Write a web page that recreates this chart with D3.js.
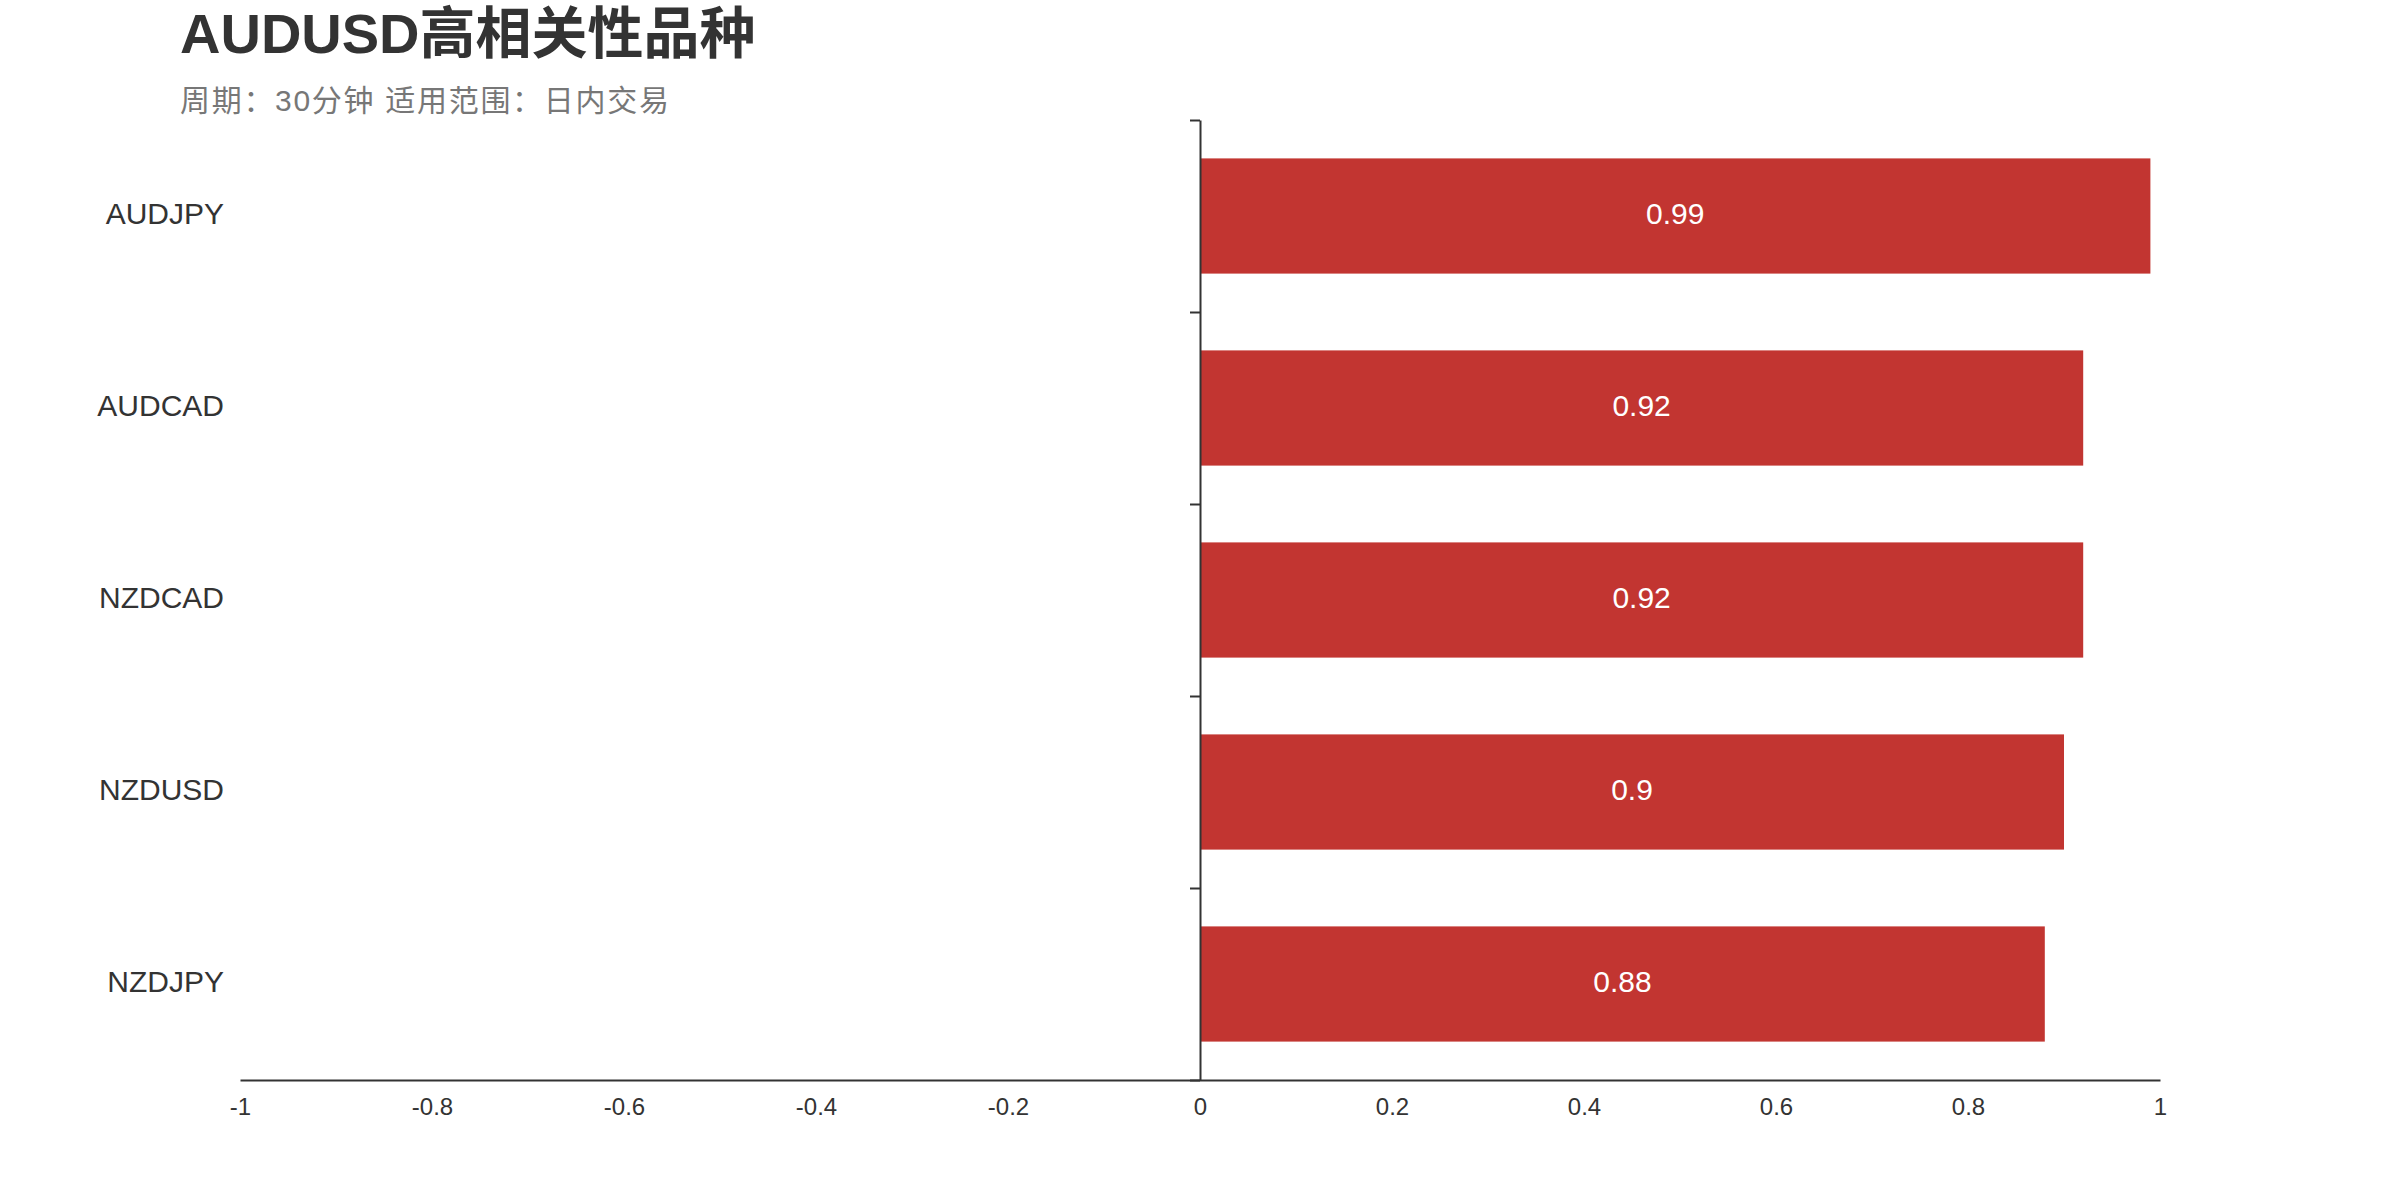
<!DOCTYPE html>
<html>
<head>
<meta charset="utf-8">
<script src="https://cdn.jsdelivr.net/npm/d3@7"></script>
<style>
  html, body { margin: 0; padding: 0; background: #fff; }
  svg { display: block; font-family: "Liberation Sans", Arial, "Noto Sans CJK SC", sans-serif; }
</style>
</head>
<body>
<svg id="chart" width="2400" height="1200"></svg>
<script>
// data
var categories = ["AUDJPY", "AUDCAD", "NZDCAD", "NZDUSD", "NZDJPY"];
var values = [0.99, 0.92, 0.92, 0.9, 0.88];
var xTicks = [-1, -0.8, -0.6, -0.4, -0.2, 0, 0.2, 0.4, 0.6, 0.8, 1];
var titleText = "AUDUSD高相关性品种";
var subText = "周期：30分钟 适用范围：日内交易";

var svg = d3.select("#chart");
var margin = {top: 120, right: 240, bottom: 120, left: 240},
    width = +svg.attr("width") - margin.left - margin.right,
    height = +svg.attr("height") - margin.top - margin.bottom;

var x = d3.scaleLinear().domain([-1, 1]).range([margin.left, margin.left + width]);
var y = d3.scaleBand().domain(categories).range([margin.top, margin.top + height]).padding(0);
var inset = y.bandwidth() * 0.2;

var data = categories.map(function (c, i) { return {name: c, value: values[i]}; });

// title
svg.append("text")
    .attr("x", 180)
    .attr("y", 53)
    .style("font-size", "56px")
    .style("font-weight", "bold")
    .style("fill", "#333")
    .text(titleText);

svg.append("text")
    .attr("x", 180)
    .attr("y", 111)
    .style("font-size", "30px")
    .style("letter-spacing", "1.7px")
    .style("fill", "#777")
    .text(subText);

// bars
svg.selectAll(".bar")
    .data(data)
    .enter().append("rect")
    .attr("class", "bar")
    .attr("x", d => Math.min(x(0), x(d.value)))
    .attr("y", d => y(d.name) + inset)
    .attr("width", d => Math.abs(x(d.value) - x(0)))
    .attr("height", y.bandwidth() - 2 * inset)
    .style("fill", "#c23531");

svg.selectAll(".bar-label")
    .data(data)
    .enter().append("text")
    .attr("class", "bar-label")
    .attr("x", d => (x(0) + x(d.value)) / 2)
    .attr("y", d => y(d.name) + y.bandwidth() / 2 - 3)
    .attr("text-anchor", "middle")
    .attr("dominant-baseline", "central")
    .style("font-size", "30px")
    .style("fill", "#fff")
    .text(d => d.value);

// x axis
var xAxis = svg.append("g")
    .attr("class", "axis axis-x")
    .attr("transform", `translate(0,${margin.top + height})`)
    .call(d3.axisBottom(x).tickValues(xTicks).tickSize(0).tickPadding(18).tickFormat(d => String(d)));
xAxis.select(".domain").attr("stroke", "#333").attr("stroke-width", 2);
xAxis.selectAll("text").style("font-size", "24px").style("fill", "#333")
    .style("font-family", "'Liberation Sans', Arial, sans-serif");

// y axis at zero, ticks on band boundaries
var bounds = categories.map(c => y(c)).concat([y.range()[1]]);
var yAxis = svg.append("g")
    .attr("class", "axis axis-y")
    .attr("transform", `translate(${x(0)},0)`)
    .call(d3.axisLeft(d3.scaleIdentity().domain(y.range())).tickValues(bounds).tickSize(10).tickSizeOuter(0).tickFormat(""));
yAxis.select(".domain").attr("stroke", "#333").attr("stroke-width", 2);
yAxis.selectAll(".tick line").attr("stroke", "#333").attr("stroke-width", 2);

// category labels
svg.selectAll(".cat-label")
    .data(categories)
    .enter().append("text")
    .attr("class", "cat-label")
    .attr("x", 224)
    .attr("y", d => y(d) + y.bandwidth() / 2 - 3)
    .attr("text-anchor", "end")
    .attr("dominant-baseline", "central")
    .style("font-size", "30px")
    .style("fill", "#333")
    .text(d => d);
</script>
</body>
</html>
